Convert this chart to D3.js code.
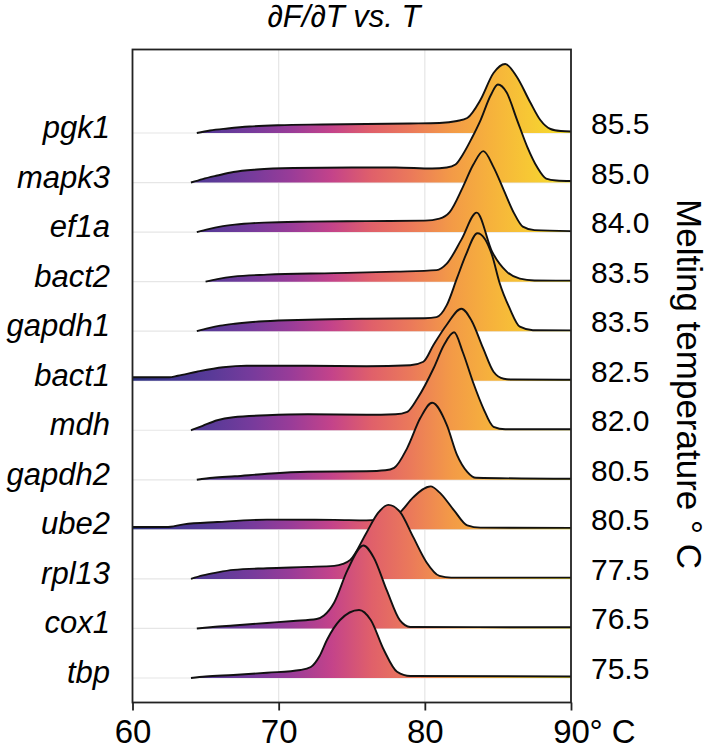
<!DOCTYPE html>
<html>
<head>
<meta charset="utf-8">
<script src="https://cdn.jsdelivr.net/npm/d3@7"></script>
<style>
  body { margin: 0; background: #fff; }
  text { font-family: "Liberation Sans", Arial, Helvetica, sans-serif; fill: #000; }
</style>
</head>
<body>
<script>
let genes = ["pgk1", "mapk3", "ef1a", "bact2", "gapdh1", "bact1", "mdh", "gapdh2", "ube2", "rpl13", "cox1", "tbp"];
let meltTemps = ["85.5", "85.0", "84.0", "83.5", "83.5", "82.5", "82.0", "80.5", "80.5", "77.5", "76.5", "75.5"];
let xTicks = [60, 70, 80, 90];

// [temperature, dF/dT]
let pgk1 = [[64.4,0],[65.3,2.5],[66.5,4.5],[68,6.5],[70,7.8],[73,8.5],[76,9],[79,9.5],[81,10],[82.2,12],[82.9,15],[83.8,33],[84.7,60],[85.5,69],[86.3,56],[87.2,31],[87.9,13],[88.6,4],[89.3,2],[90,1.5]];
let mapk3 = [[64,0],[64.8,3.5],[65.8,7],[66.9,10.5],[68.5,13],[71,14.5],[75,15],[78,15],[80.5,14],[81.5,15],[82.1,18],[82.6,28],[83.2,44],[83.8,62],[84.5,87],[85,98],[85.6,90],[86.3,63],[87,36],[87.7,15],[88.3,4],[89,2],[90,1.5]];
let ef1a = [[64.4,0],[65.2,3],[66,5.5],[67,7.5],[69,9.5],[72,10.5],[76,11],[80,11.5],[81,13.5],[81.7,20],[82.6,45],[83.3,67],[84,81],[84.7,65],[85.4,42],[86.1,19],[86.7,5.5],[87.5,2],[90,1]];
let bact2 = [[65,0],[65.8,2.5],[66.9,5],[69.2,7],[73.8,8.5],[78,10],[80.8,11.5],[81.5,18],[82.5,42],[83.55,69],[84.6,30],[85.6,10],[86.5,3],[87.5,1.2],[90,1]];
let gapdh1 = [[64.4,0],[65.2,3],[66,5.5],[67,7.5],[69,10],[72,11.5],[76,12.5],[80,13],[80.8,14],[81.5,26],[82.2,53],[82.8,76],[83.6,98],[84.6,76],[85.1,49],[85.8,23],[86.5,4.5],[87.4,1],[90,0.8]];
let bact1 = [[60,3.5],[62.5,3.5],[63.1,5],[64.4,9],[66.2,13.5],[67.8,15],[72,15],[76,14.5],[79,15.5],[79.9,19],[80.6,36],[81.5,56],[82.5,72],[83.2,60],[84,32],[84.7,9],[85.4,2],[86,1.2],[90,1]];
let mdh = [[64,0],[64.8,4.5],[65.8,10],[66.9,13],[69.2,15],[72,16],[76,15.5],[78,16],[78.8,18.5],[79.5,32],[80.6,62],[81.3,85],[82,98],[82.6,78],[83.3,48],[84,22],[84.7,3.5],[85.5,1],[90,1]];
let gapdh2 = [[64.4,0],[65.5,2],[67,3.5],[69.2,6],[72,8],[76,8.5],[77.3,9.5],[77.9,12],[78.8,32],[79.7,62],[80.5,77],[81.5,55],[82.2,25],[82.9,8],[83.5,2],[90,1]];
let ube2 = [[60,2.3],[62.3,2.3],[63.5,5],[65.8,7.3],[69.2,9.7],[73.8,9.5],[76,9],[77.6,10.7],[78.3,17],[79.2,32],[80.4,43],[81,37],[82,19],[82.9,4],[83.8,1.7],[90,1.5]];
let rpl13 = [[64,0],[64.8,3.5],[65.8,6.5],[66.9,9],[69.2,10.7],[72,12],[73.8,13],[74.4,15],[74.9,19],[76,46],[76.8,66],[77.5,74],[78.3,67],[79.2,42],[80.1,17],[81,3],[81.8,1.3],[90,1.3]];
let cox1 = [[64.4,0],[65.5,1.5],[66.9,3],[69.2,5.5],[71,7.5],[72.6,9.5],[73.1,13],[73.8,26],[74.7,58],[75.8,83],[76.5,71],[77.4,38],[78.3,8],[79,1.5],[90,1.2]];
let tbp = [[64,0],[65,1.5],[66.9,3],[69.2,5.3],[71.5,8],[72.2,11],[72.8,22],[73.3,38],[74.2,58],[75.5,68],[76.3,58],[77.2,28],[78.1,6.3],[79,2],[90,1.5]];

let traces = [pgk1, mapk3, ef1a, bact2, gapdh1, bact1, mdh, gapdh2, ube2, rpl13, cox1, tbp];

let width = 708,
    height = 749;

let margin = {
  top: 49.5,
  bottom: 46.5,
  left: 132.5,
  right: 137
};

let innerW = width - margin.left - margin.right,
    innerH = height - margin.top - margin.bottom;

let root = d3.select('body')
    .append("svg")
    .attr("width", width)
    .attr("height", height);

let svg = root.append("g")
    .attr("transform", "translate(" + margin.left + "," + margin.top + ")");

let x = d3.scaleLinear()
    .domain([60, 90])
    .range([0, innerW]);

let row = d3.scalePoint()
    .domain(genes)
    .range([83.5, 628.5]);

let h = d3.scaleLinear()
    .domain([0, 100])
    .range([0, 100]);

// plasma-like fill running along temperature
let stops = ["#2a317e", "#443692", "#5a3a98", "#773b9c", "#9a3c98", "#c4438a",
             "#e0606a", "#eb7a5a", "#f39a47", "#f6b23c", "#f7c934", "#f4e22b"];

let grad = root.append("defs").append("linearGradient")
    .attr("id", "plasma")
    .attr("gradientUnits", "userSpaceOnUse")
    .attr("x1", x(60)).attr("x2", x(90))
    .attr("y1", 0).attr("y2", 0);

grad.selectAll("stop")
    .data(stops)
    .enter()
    .append("stop")
    .attr("offset", (d, i) => i / (stops.length - 1))
    .attr("stop-color", d => d);

// grid
svg.selectAll(".vgrid")
    .data([70, 80])
    .enter()
    .append("line")
    .attr("x1", d => x(d)).attr("x2", d => x(d))
    .attr("y1", 0).attr("y2", innerH)
    .attr("stroke", "#e6e6e6")
    .attr("stroke-width", 1.2);

svg.selectAll(".hgrid")
    .data(genes)
    .enter()
    .append("line")
    .attr("x1", 0).attr("x2", innerW)
    .attr("y1", d => row(d)).attr("y2", d => row(d))
    .attr("stroke", "#e6e6e6")
    .attr("stroke-width", 1.2);

// ridges, top row first so lower rows overlap it
genes.forEach((g, i) => {
  let base = row(g);

  let area = d3.area()
      .x(d => x(d[0]))
      .y0(base)
      .y1(d => base - h(d[1]))
      .curve(d3.curveMonotoneX);

  let line = d3.line()
      .x(d => x(d[0]))
      .y(d => base - h(d[1]))
      .curve(d3.curveMonotoneX);

  svg.append("path")
      .datum(traces[i])
      .attr("d", area)
      .attr("fill", "url(#plasma)");

  svg.append("path")
      .datum(traces[i])
      .attr("d", line)
      .attr("fill", "none")
      .attr("stroke", "#111")
      .attr("stroke-width", 1.9)
      .attr("stroke-linejoin", "round");
});

// panel border
svg.append("rect")
    .attr("x", 0).attr("y", 0)
    .attr("width", innerW).attr("height", innerH)
    .attr("fill", "none")
    .attr("stroke", "#222")
    .attr("stroke-width", 1.8);

// x axis
let xAxis = svg.append("g")
    .attr("transform", "translate(0," + innerH + ")")
    .call(d3.axisBottom(x).tickValues(xTicks).tickSize(8).tickPadding(9));

xAxis.select(".domain").remove();
xAxis.selectAll("line").attr("stroke", "#222").attr("stroke-width", 1.8);
xAxis.selectAll("text")
    .style("font-size", "33px")
    .style("font-family", "'Liberation Sans', Arial, sans-serif")
    .attr("fill", "#000");

svg.append("text")
    .attr("x", x(90) + 18.5)
    .attr("y", innerH + 40.5)
    .style("font-size", "33px")
    .text("° C");

// gene names
svg.selectAll(".gene")
    .data(genes)
    .enter()
    .append("text")
    .attr("x", -22.5)
    .attr("y", d => row(d) + 5)
    .style("text-anchor", "end")
    .style("font-size", "31px")
    .style("font-style", "italic")
    .text(d => d);

// melting temperatures
svg.selectAll(".tm")
    .data(genes)
    .enter()
    .append("text")
    .attr("x", innerW + 20)
    .attr("y", (d, i) => row(d) + 1)
    .style("font-size", "30px")
    .text((d, i) => meltTemps[i]);

// title
root.append("text")
    .attr("x", 344)
    .attr("y", 27)
    .style("text-anchor", "middle")
    .style("font-size", "31px")
    .style("font-style", "italic")
    .text("∂F/∂T vs. T");

// right axis title
root.append("text")
    .attr("transform", "translate(677,384) rotate(90)")
    .style("text-anchor", "middle")
    .style("font-size", "35px")
    .text("Melting temperature ° C");
</script>
</body>
</html>
